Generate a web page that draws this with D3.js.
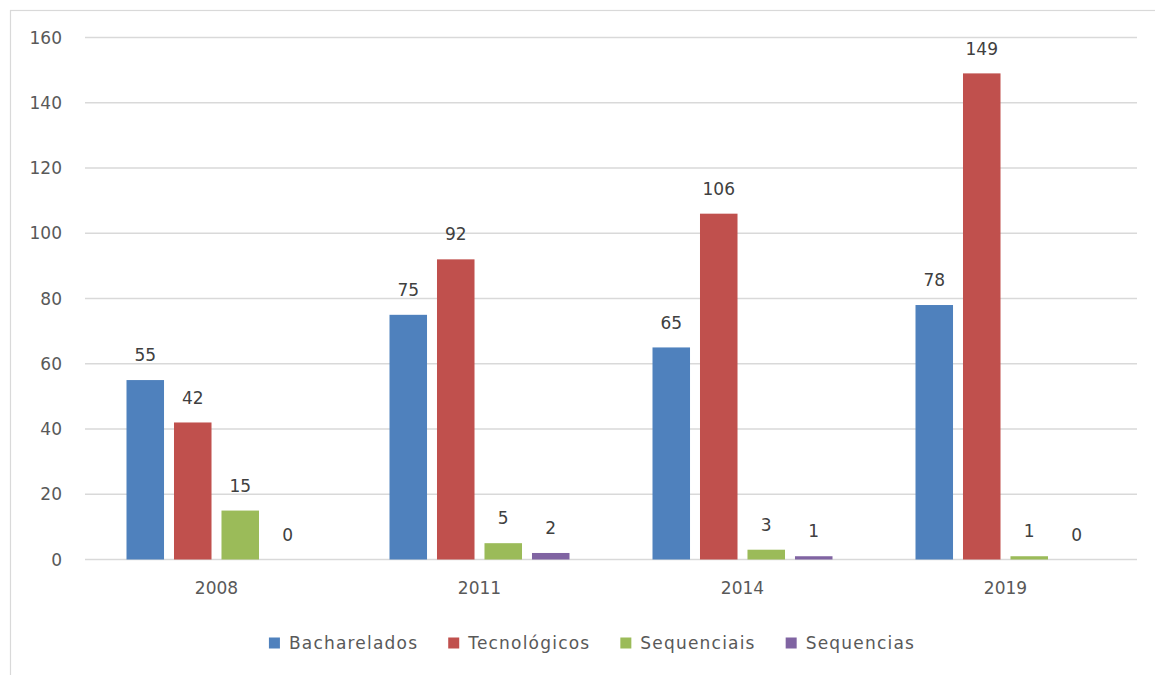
<!DOCTYPE html>
<html>
<head>
<meta charset="utf-8">
<script src="https://cdn.jsdelivr.net/npm/d3@7"></script>
<style>
  body { margin: 0; background: #fff; }
  text { font-family: "DejaVu Sans", sans-serif; fill: #595959; }
</style>
</head>
<body>
<script>
  // chart values
  var years = ["2008", "2011", "2014", "2019"];
  var seriesNames = ["Bacharelados", "Tecnológicos", "Sequenciais", "Sequencias"];
  var bacharelados = [55, 75, 65, 78];
  var tecnologicos = [42, 92, 106, 149];
  var sequenciais = [15, 5, 3, 1];
  var sequencias = [0, 2, 1, 0];
  var yTicks = [0, 20, 40, 60, 80, 100, 120, 140, 160];
  var colors = ["#4F81BD", "#C0504D", "#9BBB59", "#8064A2"];

  var seriesValues = [bacharelados, tecnologicos, sequenciais, sequencias];

  var width = 1155,
      height = 675;

  var svg = d3.select("body").append("svg")
      .attr("width", width)
      .attr("height", height);

  // outer frame (runs off the right and bottom edge)
  svg.append("rect")
      .attr("x", 10.5)
      .attr("y", 10.5)
      .attr("width", 1170)
      .attr("height", 690)
      .attr("fill", "none")
      .attr("stroke", "#d9d9d9")
      .attr("stroke-width", 1.2);

  var x0 = d3.scaleBand()
      .domain(years)
      .range([85, 1137]);

  var outer = 41.5;
  var x1 = d3.scaleBand()
      .domain(seriesNames)
      .range([outer, x0.bandwidth() - outer])
      .paddingInner(0.21);

  var y = d3.scaleLinear()
      .domain([0, 160])
      .range([559.5, 37.5]);

  // gridlines
  svg.append("g")
    .selectAll("line")
    .data(yTicks)
    .enter()
    .append("line")
      .attr("x1", 85)
      .attr("x2", 1137)
      .attr("y1", function(d) { return y(d); })
      .attr("y2", function(d) { return y(d); })
      .attr("stroke", "#d9d9d9")
      .attr("stroke-width", 1.3);

  // y tick labels
  svg.append("g")
    .selectAll("text")
    .data(yTicks)
    .enter()
    .append("text")
      .attr("x", 62)
      .attr("y", function(d) { return y(d); })
      .attr("dy", "0.36em")
      .attr("text-anchor", "end")
      .style("font-size", "17px")
      .text(function(d) { return d; });

  // category labels
  svg.append("g")
    .selectAll("text")
    .data(years)
    .enter()
    .append("text")
      .attr("x", function(d) { return x0(d) + x0.bandwidth() / 2; })
      .attr("y", 588)
      .attr("dy", "0.36em")
      .attr("text-anchor", "middle")
      .style("font-size", "17px")
      .text(function(d) { return d; });

  // flatten values into one record per bar
  var bars = [];
  years.forEach(function(yr, i) {
    seriesNames.forEach(function(s, j) {
      bars.push({ year: yr, series: s, value: seriesValues[j][i], color: colors[j] });
    });
  });

  var groups = svg.append("g");

  groups.selectAll("rect")
    .data(bars)
    .enter()
    .append("rect")
      .attr("x", function(d) { return x0(d.year) + x1(d.series); })
      .attr("y", function(d) { return y(d.value); })
      .attr("width", x1.bandwidth())
      .attr("height", function(d) { return y(0) - y(d.value); })
      .attr("fill", function(d) { return d.color; });

  // data labels
  groups.selectAll("text")
    .data(bars)
    .enter()
    .append("text")
      .attr("x", function(d) { return x0(d.year) + x1(d.series) + x1.bandwidth() / 2; })
      .attr("y", function(d) { return y(d.value) - 25; })
      .attr("dy", "0.36em")
      .attr("text-anchor", "middle")
      .style("font-size", "17px")
      .style("fill", "#404040")
      .text(function(d) { return d.value; });

  // legend
  var legend = svg.append("g");
  var sw = 11, gap = 20, spacing = 30;
  var items = legend.selectAll("g")
    .data(seriesNames)
    .enter()
    .append("g");

  items.append("rect")
      .attr("width", sw)
      .attr("height", sw)
      .attr("y", -sw / 2)
      .attr("fill", function(d, i) { return colors[i]; });

  items.append("text")
      .attr("x", gap)
      .attr("dy", "0.36em")
      .style("font-size", "17px")
      .style("letter-spacing", "1.2px")
      .text(function(d) { return d; });

  var offs = [], cur = 0;
  items.each(function() {
    offs.push(cur);
    cur += gap + d3.select(this).select("text").node().getComputedTextLength() + spacing;
  });
  var total = cur - spacing;
  var startX = 592 - total / 2;
  items.attr("transform", function(d, i) { return "translate(" + (startX + offs[i]) + ",643)"; });
</script>
</body>
</html>
